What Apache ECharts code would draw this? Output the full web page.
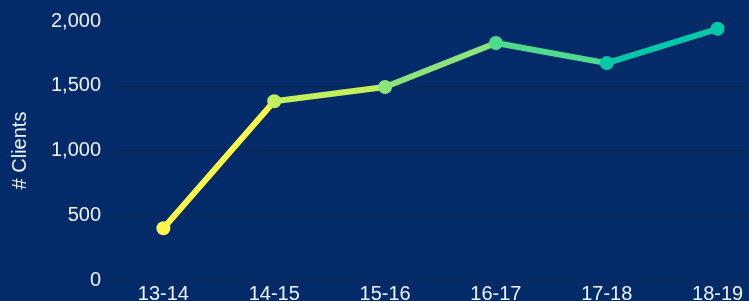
<!DOCTYPE html>
<html>
<head>
<meta charset="utf-8">
<script src="https://cdn.jsdelivr.net/npm/echarts@6/dist/echarts.min.js"></script>
<style>
  html, body { margin: 0; padding: 0; background: #032b69; }
  #chart { width: 749px; height: 301px; }
</style>
</head>
<body>
<div id="chart"></div>
<script>
// seasons and client counts
const seasons = ['13-14', '14-15', '15-16', '16-17', '17-18', '18-19']
const clients = [400, 1380, 1490, 1830, 1675, 1940]
const yTicks = { min: 0, max: 2000, interval: 500 }
// one colour per season, each segment takes the colour of its start point
const seasonColors = ['#fdf64a', '#c3ef5c', '#8ce47b', '#4fdb8f', '#00c8a8', '#00c8a8']

const chart = echarts.init(document.getElementById('chart'))

const pieces = seasonColors.map(function (c, i) {
  if (i === seasonColors.length - 1) return { gte: i, lte: i + 1, color: c }
  return { gte: i, lt: i + 1, color: c }
})

const option = {
  backgroundColor: '#032b69',
  grid: {
    left: 108,
    width: 665, // last band runs off the picture
    top: 21,
    bottom: 21,
    outerBoundsMode: 'none'
  },
  visualMap: {
    show: false,
    type: 'piecewise',
    dimension: 0,
    pieces: pieces
  },
  xAxis: {
    type: 'category',
    data: seasons,
    boundaryGap: true,
    axisLine: { show: false },
    axisTick: { show: false },
    axisLabel: {
      color: '#eef2fa',
      fontSize: 20,
      fontFamily: 'Liberation Sans',
      margin: 4
    }
  },
  yAxis: {
    type: 'value',
    min: yTicks.min,
    max: yTicks.max,
    interval: yTicks.interval,
    name: '# Clients',
    nameLocation: 'middle',
    nameGap: 78,
    nameTextStyle: {
      color: '#eef2fa',
      fontSize: 20,
      fontFamily: 'Liberation Sans'
    },
    axisLine: { show: false },
    axisTick: { show: false },
    axisLabel: {
      color: '#eef2fa',
      fontSize: 20,
      fontFamily: 'Liberation Sans',
      margin: 7,
      formatter: function (v) {
        return v.toLocaleString('en-US')
      }
    },
    splitLine: {
      lineStyle: { color: '#13284f', width: 1 }
    }
  },
  series: [
    {
      name: 'Clients',
      type: 'line',
      data: clients,
      symbol: 'circle',
      symbolSize: 14,
      lineStyle: { width: 6 },
      animation: false
    }
  ]
}

chart.setOption(option)
</script>
</body>
</html>
